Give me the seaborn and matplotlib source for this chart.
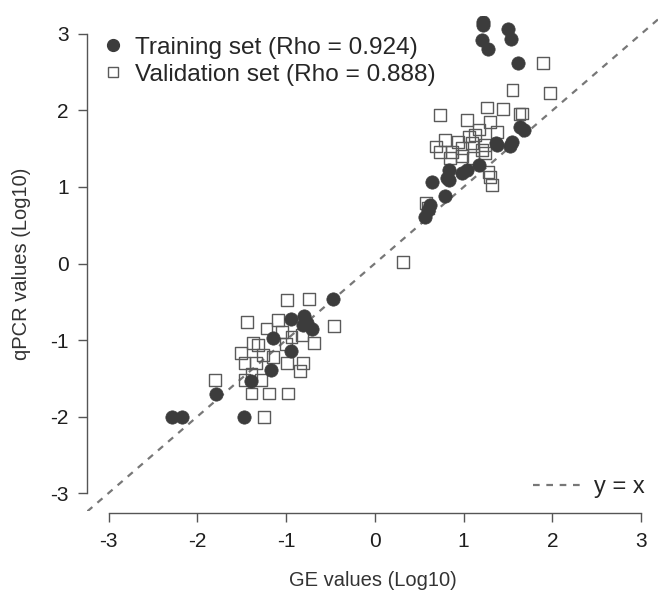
import matplotlib
matplotlib.use("Agg")
import matplotlib.pyplot as plt
from matplotlib.lines import Line2D
import numpy as np
import pandas as pd
import seaborn as sns

# training set (filled circles)
train_x = [1.22, 1.22, 1.21, 1.28, 1.50, 1.53, 1.61,
           1.64, 1.68, 1.55, 1.52, 1.36, 1.38,
           0.83, 0.81, 0.84, 0.98, 1.04, 1.17,
           0.64, 0.79, 0.62, 0.60, 0.56,
           -0.47, -0.95, -0.80, -0.81, -0.71, -0.76,
           -1.15, -0.94, -1.17, -1.39, -1.79, -2.29, -2.17, -1.47]
train_y = [3.16, 3.12, 2.92, 2.81, 3.07, 2.94, 2.62,
           1.79, 1.75, 1.59, 1.53, 1.57, 1.55,
           1.22, 1.12, 1.09, 1.18, 1.22, 1.29,
           1.07, 0.88, 0.76, 0.70, 0.61,
           -0.47, -0.73, -0.69, -0.80, -0.85, -0.78,
           -0.98, -1.15, -1.39, -1.53, -1.70, -2.01, -2.01, -2.01]

# validation set (open squares)
valid_x = [1.89, 1.55, 1.97,
           0.73, 1.26, 1.44, 1.04, 1.30, 1.63, 1.66,
           1.17, 1.38, 1.06, 1.13, 0.79, 0.94, 0.69,
           0.73, 0.87, 0.98, 1.24, 1.09, 1.21,
           0.85, 0.98, 1.11, 1.24, 1.28, 1.30, 1.32,
           0.58, 0.60, 0.32,
           -0.99, -0.74, -1.44, -0.46, -1.22, -1.09,
           -0.94, -0.82, -0.69, -1.37, -1.32, -1.51,
           -1.26, -1.15, -1.47, -1.34, -0.99, -0.81,
           -1.39, -0.84, -1.28, -1.47, -1.80,
           -1.39, -1.19, -0.98, -1.25, -1.05, -1.00]
valid_y = [2.62, 2.27, 2.23,
           1.94, 2.04, 2.02, 1.88, 1.85, 1.95, 1.96,
           1.75, 1.72, 1.66, 1.68, 1.61, 1.59, 1.53,
           1.46, 1.46, 1.51, 1.55, 1.57, 1.48,
           1.38, 1.40, 1.38, 1.44, 1.20, 1.13, 1.03,
           0.79, 0.73, 0.02,
           -0.48, -0.46, -0.76, -0.82, -0.85, -0.74,
           -0.96, -0.93, -1.04, -1.04, -1.07, -1.17,
           -1.20, -1.22, -1.30, -1.30, -1.30, -1.30,
           -1.44, -1.41, -1.52, -1.52, -1.52,
           -1.70, -1.70, -1.70, -2.01, -0.90, -1.05]

ticks = [-3, -2, -1, 0, 1, 2, 3]
train_label = "Training set (Rho = 0.924)"
valid_label = "Validation set (Rho = 0.888)"

sns.set_style("ticks")
plt.rcParams['font.family'] = ['Liberation Sans', 'DejaVu Sans']

train = pd.DataFrame({"ge": train_x, "qpcr": train_y})
valid = pd.DataFrame({"ge": valid_x, "qpcr": valid_y})

W, H = 658, 591
left_px, right_px, top_px, bottom_px = 87.3, 658.0, 15.6, 511.4
fig = plt.figure(figsize=(W / 100, H / 100), dpi=100)
ax = fig.add_axes([left_px / W, 1 - bottom_px / H,
                   (right_px - left_px) / W, (bottom_px - top_px) / H])

sns.scatterplot(data=valid, x="ge", y="qpcr", ax=ax, marker="s", s=72,
                facecolor="none", edgecolor="#5a5a5a", linewidth=1.0,
                zorder=3)
sns.scatterplot(data=train, x="ge", y="qpcr", ax=ax, marker="o", s=92,
                color="#3c3c3c", edgecolor="#3c3c3c", linewidth=0.5,
                zorder=4)

ax.axline((0, 0), slope=1, color="#777777", lw=1.6,
          linestyle=(0, (3, 3)), zorder=2)

ax.set_xlim(-3.24, 3.19)
ax.set_ylim(-3.24, 3.24)
ax.set_xticks(ticks, [str(t) for t in ticks])
ax.set_yticks(ticks, [str(t) for t in ticks])
ax.tick_params(axis="both", direction="out", length=6.5, width=1,
               color="#555555", labelcolor="#1e1e1e", labelsize=15)
ax.tick_params(axis="x", pad=7)
ax.tick_params(axis="y", pad=7)

for side in ["top", "right"]:
    ax.spines[side].set_visible(False)
for side in ["left", "bottom"]:
    ax.spines[side].set_color("#555555")
    ax.spines[side].set_linewidth(1)
ax.spines["left"].set_bounds(-3, 3)
ax.spines["bottom"].set_bounds(-3, 3)
ax.spines["bottom"].set_position(("outward", 1))

ax.set_xlabel("GE values (Log10)", fontsize=14.5, color="#333333")
ax.xaxis.label.set_va("baseline")
ax.xaxis.set_label_coords(0.5, -(586 - bottom_px) / (bottom_px - top_px))
ax.set_ylabel("qPCR values (Log10)", fontsize=14.5, color="#333333")
ax.yaxis.label.set_va("center")
ax.yaxis.set_label_coords(-(left_px - 22) / (right_px - left_px), 0.5)

handles = [
    Line2D([], [], marker="o", linestyle="none", markersize=8.5,
           markerfacecolor="#3c3c3c", markeredgecolor="#3c3c3c"),
    Line2D([], [], marker="s", linestyle="none", markersize=7.5,
           markerfacecolor="none", markeredgecolor="#5a5a5a"),
]
leg1 = ax.legend(handles, [train_label, valid_label], loc="upper left",
                 bbox_to_anchor=(0.023, 0.958), frameon=False, fontsize=17.6,
                 handlelength=1.0, handletextpad=0.4, labelspacing=0.2,
                 borderaxespad=0, borderpad=0)
ax.add_artist(leg1)
line_handle = Line2D([], [], color="#777777", lw=1.6, linestyle=(0, (3, 3)))
ax.legend([line_handle], ["y = x"], loc="lower right", frameon=False,
          fontsize=17, handlelength=2.0, handletextpad=0.6,
          borderaxespad=0.15)

fig.savefig("out.png", dpi=100)
